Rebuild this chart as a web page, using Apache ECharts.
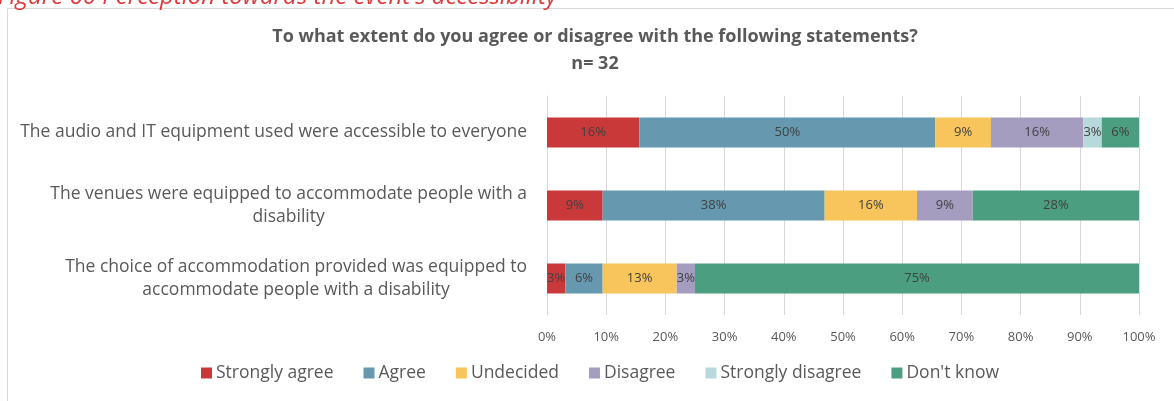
<!DOCTYPE html>
<html>
<head>
<meta charset="utf-8">
<script src="https://cdn.jsdelivr.net/npm/echarts@6/dist/echarts.min.js"></script>
<style>html,body{margin:0;padding:0;background:#fff}#c{width:1174px;height:401px}</style>
</head>
<body>
<div id="c"></div>
<script>
// Data (percent of n = 32 respondents)
const categories = [
  "The audio and IT equipment used were accessible to everyone",
  "The venues were equipped to accommodate people with a\ndisability",
  "The choice of accommodation provided was equipped to\naccommodate people with a disability"
];
const seriesNames = ["Strongly agree", "Agree", "Undecided", "Disagree", "Strongly disagree", "Don't know"];
const stronglyAgree    = [15.6, 9.4, 3.1];
const agree            = [50.0, 37.5, 6.3];
const undecided        = [9.4, 15.6, 12.5];
const disagree         = [15.6, 9.4, 3.1];
const stronglyDisagree = [3.1, 0, 0];
const dontKnow         = [6.3, 28.1, 75.0];
const xTicks = [0, 10, 20, 30, 40, 50, 60, 70, 80, 90, 100];

const colors = ["#C9393A", "#6699B0", "#F7C55B", "#A59DC0", "#B8D9DB", "#4C9E80"];
const allValues = [stronglyAgree, agree, undecided, disagree, stronglyDisagree, dontKnow];
const FONT = "Open Sans";

const chart = echarts.init(document.getElementById('c'));
chart.setOption({
  animation: false,
  textStyle: { fontFamily: FONT },
  title: {
    text: "To what extent do you agree or disagree with the following statements?\nn= 32",
    left: 590, top: 18, textAlign: 'center',
    textStyle: { fontFamily: FONT, fontSize: 18, fontWeight: 'bold', color: '#595959', lineHeight: 27 }
  },
  graphic: [
    { type: 'rect', shape: { x: 7.5, y: 8.5, width: 1180, height: 420 }, style: { fill: 'none', stroke: '#D9D9D9', lineWidth: 1 }, z: -1 },
    { type: 'text', x: -2, y: 9, style: { text: "Figure 60 Perception towards the event's accessibility", fontFamily: FONT, fontStyle: 'italic', fontSize: 24, fill: '#E0393B', textVerticalAlign: 'bottom' } }
  ],
  legend: {
    data: seriesNames,
    bottom: 14, left: 196,
    itemWidth: 11, itemHeight: 11, itemGap: 30,
    icon: 'rect',
    textStyle: { fontFamily: FONT, fontSize: 17.5, color: '#595959', padding: [0, 0, 0, -1] }
  },
  grid: { left: 547, right: 35, top: 96, bottom: 86 },
  xAxis: {
    type: 'value', min: 0, max: 100, interval: 10,
    axisLine: { show: false }, axisTick: { show: false },
    splitLine: { lineStyle: { color: '#D9D9D9', width: 1 } },
    axisLabel: { color: '#595959', fontSize: 13, margin: 16, formatter: v => xTicks.includes(v) ? v + '%' : '' }
  },
  yAxis: {
    type: 'category', inverse: true, data: categories,
    axisLine: { show: true, lineStyle: { color: '#D9D9D9' } }, axisTick: { show: false },
    axisLabel: {
      margin: 20, align: 'right', color: '#595959', fontSize: 17.5, lineHeight: 23,
      formatter: v => v.split('\n').map(l => '{c|' + l + '}').join('\n'),
      rich: { c: { align: 'center', fontFamily: FONT, fontSize: 17.5, color: '#595959', lineHeight: 23 } }
    }
  },
  series: seriesNames.map((name, i) => ({
    name, type: 'bar', stack: 'total', barWidth: 30,
    data: allValues[i],
    itemStyle: { color: colors[i] },
    label: {
      show: true, position: 'inside', color: '#404040', fontSize: 13, fontFamily: FONT,
      formatter: p => p.value > 0 ? Math.round(p.value) + '%' : ''
    }
  }))
});
</script>
</body>
</html>
